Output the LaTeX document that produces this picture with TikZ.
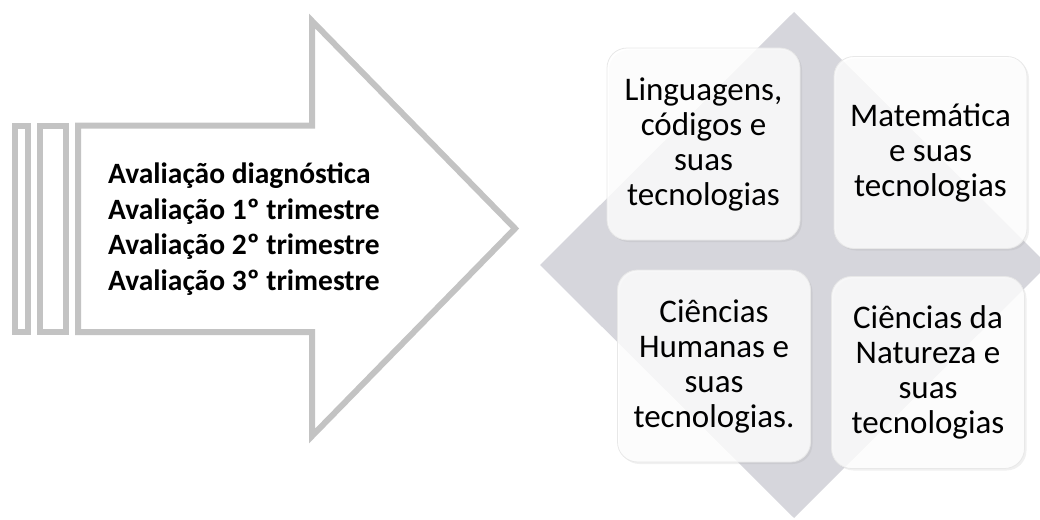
\documentclass[tikz,border=0pt]{standalone}
\usepackage{fontspec}
\setmainfont{Carlito}
\usepackage{xcolor}
\usepackage{tikz}
\usetikzlibrary{positioning, shadows}

\definecolor{arrowgray}{RGB}{195,195,195}
\definecolor{diamondgray}{RGB}{214,214,220}

\begin{document}
\begin{tikzpicture}[
  x=1pt, y=-1pt,
  outline/.style={draw=arrowgray, line width=6pt, line join=miter},
  areabox/.style={rectangle, rounded corners=20pt,
                  minimum width=193pt, minimum height=192pt,
                  inner sep=0pt, align=center,
                  fill=white, fill opacity=0.82, text opacity=1,
                  draw=gray!18, line width=0.8pt,
                  drop shadow={opacity=0.12, shadow xshift=2pt, shadow yshift=-2pt},
                  font=\fontsize{33}{35}\selectfont},
]
  \useasboundingbox (0,0) rectangle (1040,519);
  \clip (0,0) rectangle (1040,519);

  % Arrow with bars
  \draw[outline] (14.7,125.5) rectangle (27.7,332);
  \draw[outline] (40.3,125.5) rectangle (66.3,332);
  \draw[outline] (78,125.5) -- (312,125.5) -- (312,21) -- (515,228.5)
                 -- (312,436) -- (312,332) -- (78,332) -- cycle;

  % Evaluations
  \node[anchor=west, inner sep=0pt, align=left,
        font=\bfseries\fontsize{29.5}{35.7}\selectfont] (aval) at (108,229)
       {Avaliação diagnóstica\\Avaliação 1º trimestre\\Avaliação 2º trimestre\\Avaliação 3º trimestre};

  % Diamond
  \fill[diamondgray] (794,12) -- (1048,265) -- (794,518) -- (540,265) -- cycle;

  % Knowledge areas
  \node[areabox] (ling) at (703.5,144) {Linguagens,\\códigos e\\suas\\tecnologias};
  \node[areabox] (mat)  at (930.5,152.5) {Matemática\\e suas\\tecnologias};
  \node[areabox] (hum)  at (714,366) {Ciências\\Humanas e\\suas\\tecnologias.};
  \node[areabox] (nat)  at (928,372.5) {Ciências da\\Natureza e\\suas\\tecnologias};
\end{tikzpicture}
\end{document}
